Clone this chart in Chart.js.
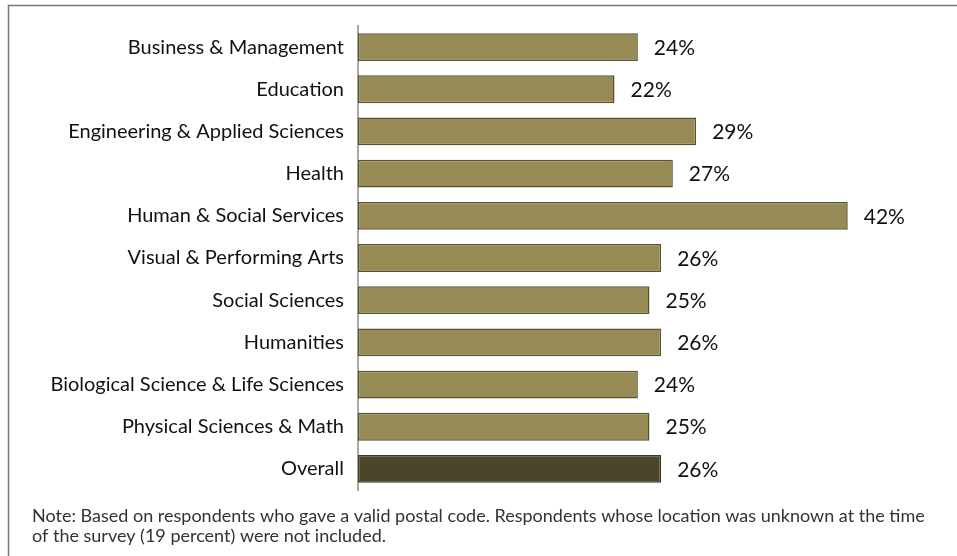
<!DOCTYPE html>
<html>
<head>
<meta charset="utf-8">
<script src="https://cdn.jsdelivr.net/npm/chart.js@4"></script>
<style>
  html, body { margin: 0; padding: 0; background: #fff; }
  #wrap { width: 957px; height: 556px; position: relative; }
</style>
</head>
<body>
<div id="wrap"><canvas id="fieldChart"></canvas></div>
<script>
const fields = [
  "Business & Management",
  "Education",
  "Engineering & Applied Sciences",
  "Health",
  "Human & Social Services",
  "Visual & Performing Arts",
  "Social Sciences",
  "Humanities",
  "Biological Science & Life Sciences",
  "Physical Sciences & Math",
  "Overall"
];
const percents = [24, 22, 29, 27, 42, 26, 25, 26, 24, 25, 26];
const noteLines = [
  "Note: Based on respondents who gave a valid postal code. Respondents whose location was unknown at the time",
  "of the survey (19 percent) were not included."
];

const FONT = "Lato, 'Liberation Sans', sans-serif";

// frame, footnote and value labels
const extras = {
  id: "extras",
  beforeDraw(chart) {
    const ctx = chart.ctx;
    ctx.save();
    ctx.strokeStyle = "#7f7a68";
    ctx.lineWidth = 1.5;
    ctx.beginPath();
    ctx.moveTo(8.5, 570);
    ctx.lineTo(8.5, 5.5);
    ctx.lineTo(970, 5.5);
    ctx.stroke();
    ctx.restore();
  },
  afterDatasetsDraw(chart) {
    const ctx = chart.ctx;
    const meta = chart.getDatasetMeta(0);
    ctx.save();
    ctx.font = "21px " + FONT;
    ctx.fillStyle = "#111";
    ctx.textBaseline = "middle";
    ctx.textAlign = "left";
    meta.data.forEach((bar, i) => {
      ctx.fillText(percents[i] + "%", bar.x + 16, bar.y + 1);
    });
    ctx.font = "18px " + FONT;
    ctx.fillStyle = "#333";
    ctx.textBaseline = "alphabetic";
    noteLines.forEach((line, i) => {
      ctx.fillText(line, 32, 522 + i * 20);
    });
    ctx.restore();
  }
};

new Chart(document.getElementById("fieldChart"), {
  type: "bar",
  data: {
    labels: fields,
    datasets: [{
      data: percents,
      backgroundColor: fields.map(f => f === "Overall" ? "#4b4529" : "#968b55"),
      borderColor: fields.map(f => f === "Overall" ? "#3d3820" : "#5a5230"),
      borderWidth: 1.5,
      borderSkipped: false,
      categoryPercentage: 1,
      barPercentage: 0.66
    }]
  },
  options: {
    indexAxis: "y",
    responsive: true,
    maintainAspectRatio: false,
    animation: false,
    layout: { padding: { left: 10, right: 16, top: 22, bottom: 66 } },
    plugins: {
      legend: { display: false },
      tooltip: { enabled: false }
    },
    scales: {
      x: {
        display: false,
        min: 0,
        max: 50
      },
      y: {
        grid: { display: false, drawTicks: false },
        border: { color: "#a8a8a8", width: 2 },
        ticks: {
          color: "#111",
          font: { family: FONT, size: 20 },
          padding: 14
        },
        afterFit(scale) { scale.width = 348; }
      }
    }
  },
  plugins: [extras]
});
</script>
</body>
</html>
